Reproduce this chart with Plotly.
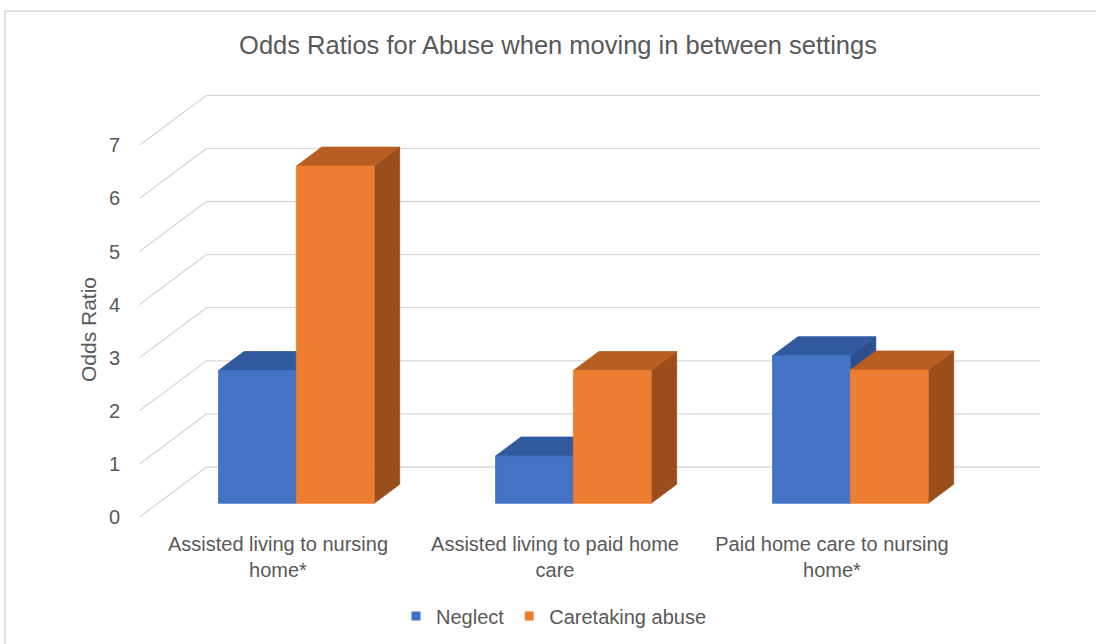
import plotly.graph_objects as go

# ---------------- data ----------------
categories = ["Assisted living to nursing<br>home*",
              "Assisted living to paid home<br>care",
              "Paid home care to nursing<br>home*"]
neglect = [2.50, 0.89, 2.78]
caretaking = [6.35, 2.50, 2.51]
series_names = ["Neglect", "Caretaking abuse"]
y_ticks = [0, 1, 2, 3, 4, 5, 6, 7]

# ---------------- layout / geometry ----------------
W, H = 1096, 644
ML, MR, MT, MB = 134, 48, 92, 122
PX_X, X0_PX = 277.0, 278.0     # px per category unit, pixel of x=0
PX_Y, Y0_PX = 53.1, 517.0      # px per value unit, pixel of v=0 (front plane)
x_range = [(ML - X0_PX) / PX_X, (W - MR - X0_PX) / PX_X]
y_range = [(Y0_PX - (H - MB)) / PX_Y, (Y0_PX - MT) / PX_Y]
DX = 67 / PX_X                 # full-depth oblique shift
DY = 50 / PX_Y
Z0, Z1 = 0.274, 0.654          # bar depth extent (fraction of floor depth)
BW = 0.281                     # bar width in category units
X_WALL_END = 2.509             # wall end (front-plane coordinate)

face_cols = {
    0: dict(front="#4472C4", top="#30599E", side="#2B4F8C"),
    1: dict(front="#ED7D31", top="#B85E22", side="#9A4E1C"),
}
grid_col = "#D9D9D9"
text_col = "#595959"
FONT = "Liberation Sans, Arial, sans-serif"


def proj(x, v, z):
    return x + DX * z, v + DY * z


fig = go.Figure()

# gridlines (side wall diagonal + back wall horizontal)
gx, gy = [], []
for v in y_ticks:
    for (x, z) in [(-0.5, 0), (-0.5, 1), (X_WALL_END, 1)]:
        px, py = proj(x, v, z)
        gx.append(px)
        gy.append(py)
    gx.append(None)
    gy.append(None)
fig.add_trace(go.Scatter(x=gx, y=gy, mode="lines",
                         line=dict(color=grid_col, width=1.3),
                         hoverinfo="skip", showlegend=False))


def poly(points, color):
    xs, ys = [], []
    for (x, v, z) in points:
        px, py = proj(x, v, z)
        xs.append(px)
        ys.append(py)
    xs.append(xs[0])
    ys.append(ys[0])
    fig.add_trace(go.Scatter(x=xs, y=ys, mode="lines", fill="toself",
                             fillcolor=color, line=dict(color=color, width=0.8),
                             hoverinfo="skip", showlegend=False))


data = [neglect, caretaking]
for i in range(len(categories)):
    for s, vals in enumerate(data):
        h = vals[i]
        xl = i - BW + s * BW
        xr = xl + BW
        c = face_cols[s]
        # side
        poly([(xr, 0, Z0), (xr, 0, Z1), (xr, h, Z1), (xr, h, Z0)], c["side"])
        # top
        poly([(xl, h, Z0), (xr, h, Z0), (xr, h, Z1), (xl, h, Z1)], c["top"])
        # front
        poly([(xl, 0, Z0), (xr, 0, Z0), (xr, h, Z0), (xl, h, Z0)], c["front"])

# legend entries
for s, name in enumerate(series_names):
    fig.add_trace(go.Scatter(x=[None], y=[None], mode="markers", name=name,
                             marker=dict(symbol="square", size=9,
                                         color=face_cols[s]["front"])))

plot_w = W - ML - MR
plot_h = H - MT - MB

fig.update_layout(
    width=W, height=H,
    margin=dict(l=ML, r=MR, t=MT, b=MB, autoexpand=False),
    paper_bgcolor="white", plot_bgcolor="white",
    font=dict(family=FONT, color=text_col, size=20),
    title=dict(text="Odds Ratios for Abuse when moving in between settings",
               x=558 / W, xanchor="center", xref="container",
               y=1 - 45 / H, yanchor="middle", yref="container",
               font=dict(size=25.5, color=text_col, family=FONT)),
    xaxis=dict(range=x_range, showgrid=False, zeroline=False, showline=False,
               tickmode="array", tickvals=list(range(len(categories))),
               ticktext=categories, ticks="outside", ticklen=4,
               tickcolor="rgba(0,0,0,0)", tickfont=dict(size=20, color=text_col),
               fixedrange=True, automargin=False),
    yaxis=dict(range=y_range, showgrid=False, zeroline=False, showline=False,
               tickmode="array", tickvals=y_ticks, ticks="outside", ticklen=9,
               tickcolor="rgba(0,0,0,0)", tickfont=dict(size=20, color=text_col),
               fixedrange=True, automargin=False),
    annotations=[dict(text="Odds Ratio", textangle=-90, showarrow=False,
                      xref="paper", yref="paper",
                      x=(88 - ML) / plot_w, y=(H - MB - 330) / plot_h,
                      xanchor="center", yanchor="middle",
                      font=dict(size=21, color=text_col))],
    legend=dict(orientation="h", x=(554 - ML) / plot_w,
                xanchor="center", xref="paper",
                y=(H - MB - 616) / plot_h, yanchor="middle",
                font=dict(size=20, color=text_col),
                bgcolor="rgba(0,0,0,0)"),
    shapes=[dict(type="rect", xref="paper", yref="paper",
                 x0=(5 - ML) / plot_w, x1=(W + 10 - ML) / plot_w,
                 y0=(H - MB - (H + 10)) / plot_h, y1=(H - MB - 11) / plot_h,
                 line=dict(color=grid_col, width=1.5), layer="below")],
)

fig.write_html("out.html")
